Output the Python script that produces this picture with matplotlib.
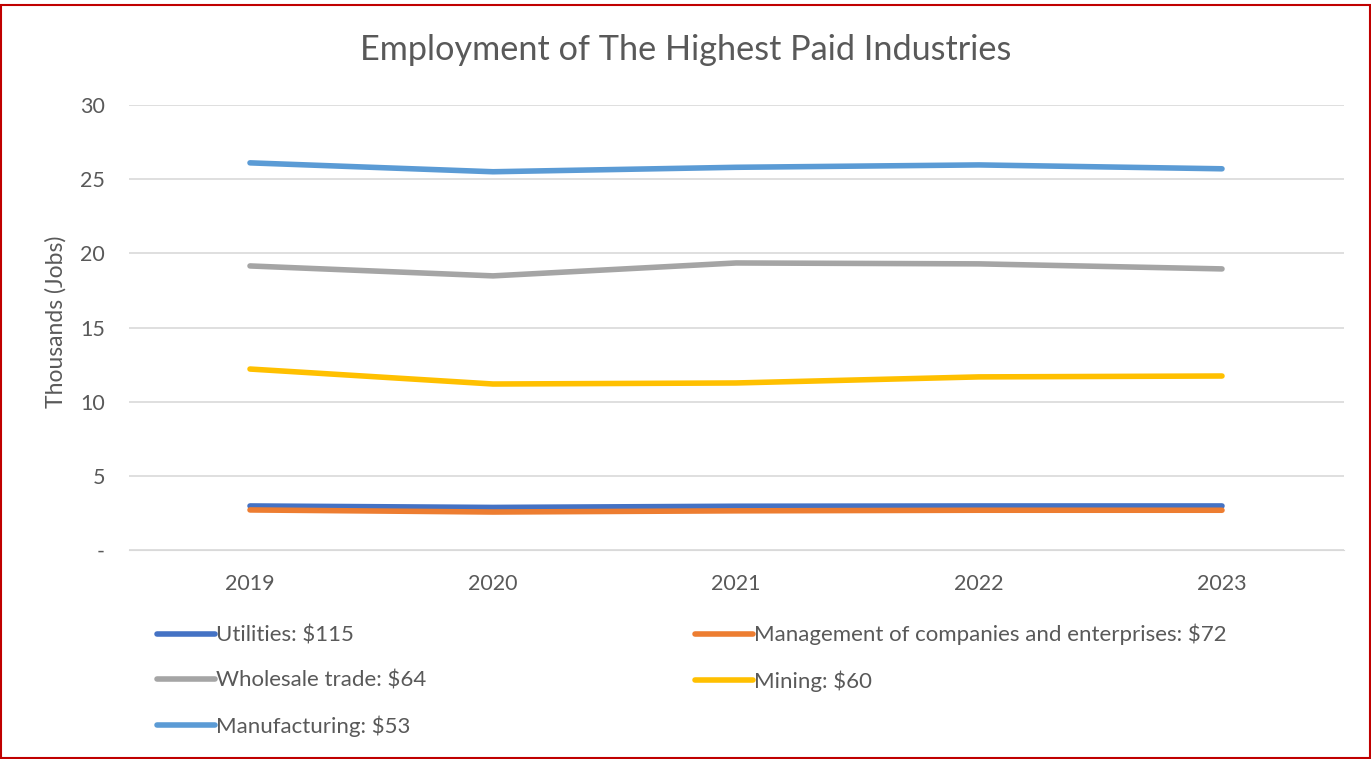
import matplotlib
matplotlib.use("Agg")
import matplotlib.pyplot as plt
from matplotlib.patches import Rectangle

plt.rcParams['font.family'] = ['Lato', 'DejaVu Sans']

# Data (thousands of jobs)
years = ["2019", "2020", "2021", "2022", "2023"]
utilities = [2.97, 2.87, 2.95, 2.97, 2.97]
management = [2.70, 2.56, 2.64, 2.68, 2.68]
wholesale = [19.15, 18.48, 19.35, 19.29, 18.95]
mining = [12.2, 11.19, 11.26, 11.67, 11.73]
manufacturing = [26.1, 25.5, 25.8, 25.96, 25.7]

labels = ["Utilities: $115", "Management of companies and enterprises: $72",
          "Wholesale trade: $64", "Mining: $60", "Manufacturing: $53"]
series = [utilities, management, wholesale, mining, manufacturing]
colors = ["#4472C4", "#ED7D31", "#A5A5A5", "#FFC000", "#5B9BD5"]

fig = plt.figure(figsize=(13.71, 7.59), dpi=100)
ax = fig.add_axes([128.5 / 1371, 1 - 550 / 759, (1343.5 - 128.5) / 1371, (550 - 105) / 759])

x = range(len(years))
lines = []
for vals, lab, col in zip(series, labels, colors):
    ln, = ax.plot(x, vals, color=col, lw=4, label=lab, solid_capstyle='round')
    lines.append(ln)

ax.set_xlim(-0.5, 4.5)
ax.set_ylim(0, 30)
ax.set_xticks(list(x))
ax.set_xticklabels(years)
ax.set_yticks([0, 5, 10, 15, 20, 25, 30])
ax.set_yticklabels(["-", "5", "10", "15", "20", "25", "30"])
ax.grid(axis='y', color='#D9D9D9', lw=1.2)
ax.set_axisbelow(True)
for s in ax.spines.values():
    s.set_visible(False)
ax.spines['bottom'].set_visible(True)
ax.spines['bottom'].set_color('#D9D9D9')
ax.tick_params(axis='both', length=0, colors='#595959', labelsize=15.5)
ax.tick_params(axis='y', pad=17)
ax.tick_params(axis='x', pad=17)
ax.set_ylabel("Thousands (Jobs)", fontsize=16.5, color='#595959')
ax.yaxis.set_label_coords(-0.051, 0.512)

fig.text(0.5, 1 - 50 / 759, "Employment of The Highest Paid Industries",
         ha='center', va='center', fontsize=24.7, color='#595959')

order = [0, 2, 4, 1, 3]
fig.legend([lines[i] for i in order], [labels[i] for i in order], ncol=2,
           loc='upper left', bbox_to_anchor=(148 / 1371, 1 - 615 / 759),
           borderaxespad=0, frameon=False, fontsize=16, labelcolor='#595959',
           handlelength=2.6, handletextpad=0.05, columnspacing=12.1,
           labelspacing=1.12)

fig.add_artist(Rectangle((0.001, 0.001), 0.998, 1 - 5 / 759 - 0.001,
                         transform=fig.transFigure, fill=False,
                         edgecolor='#C00000', lw=1.5))

fig.savefig("out.png", dpi=100)
